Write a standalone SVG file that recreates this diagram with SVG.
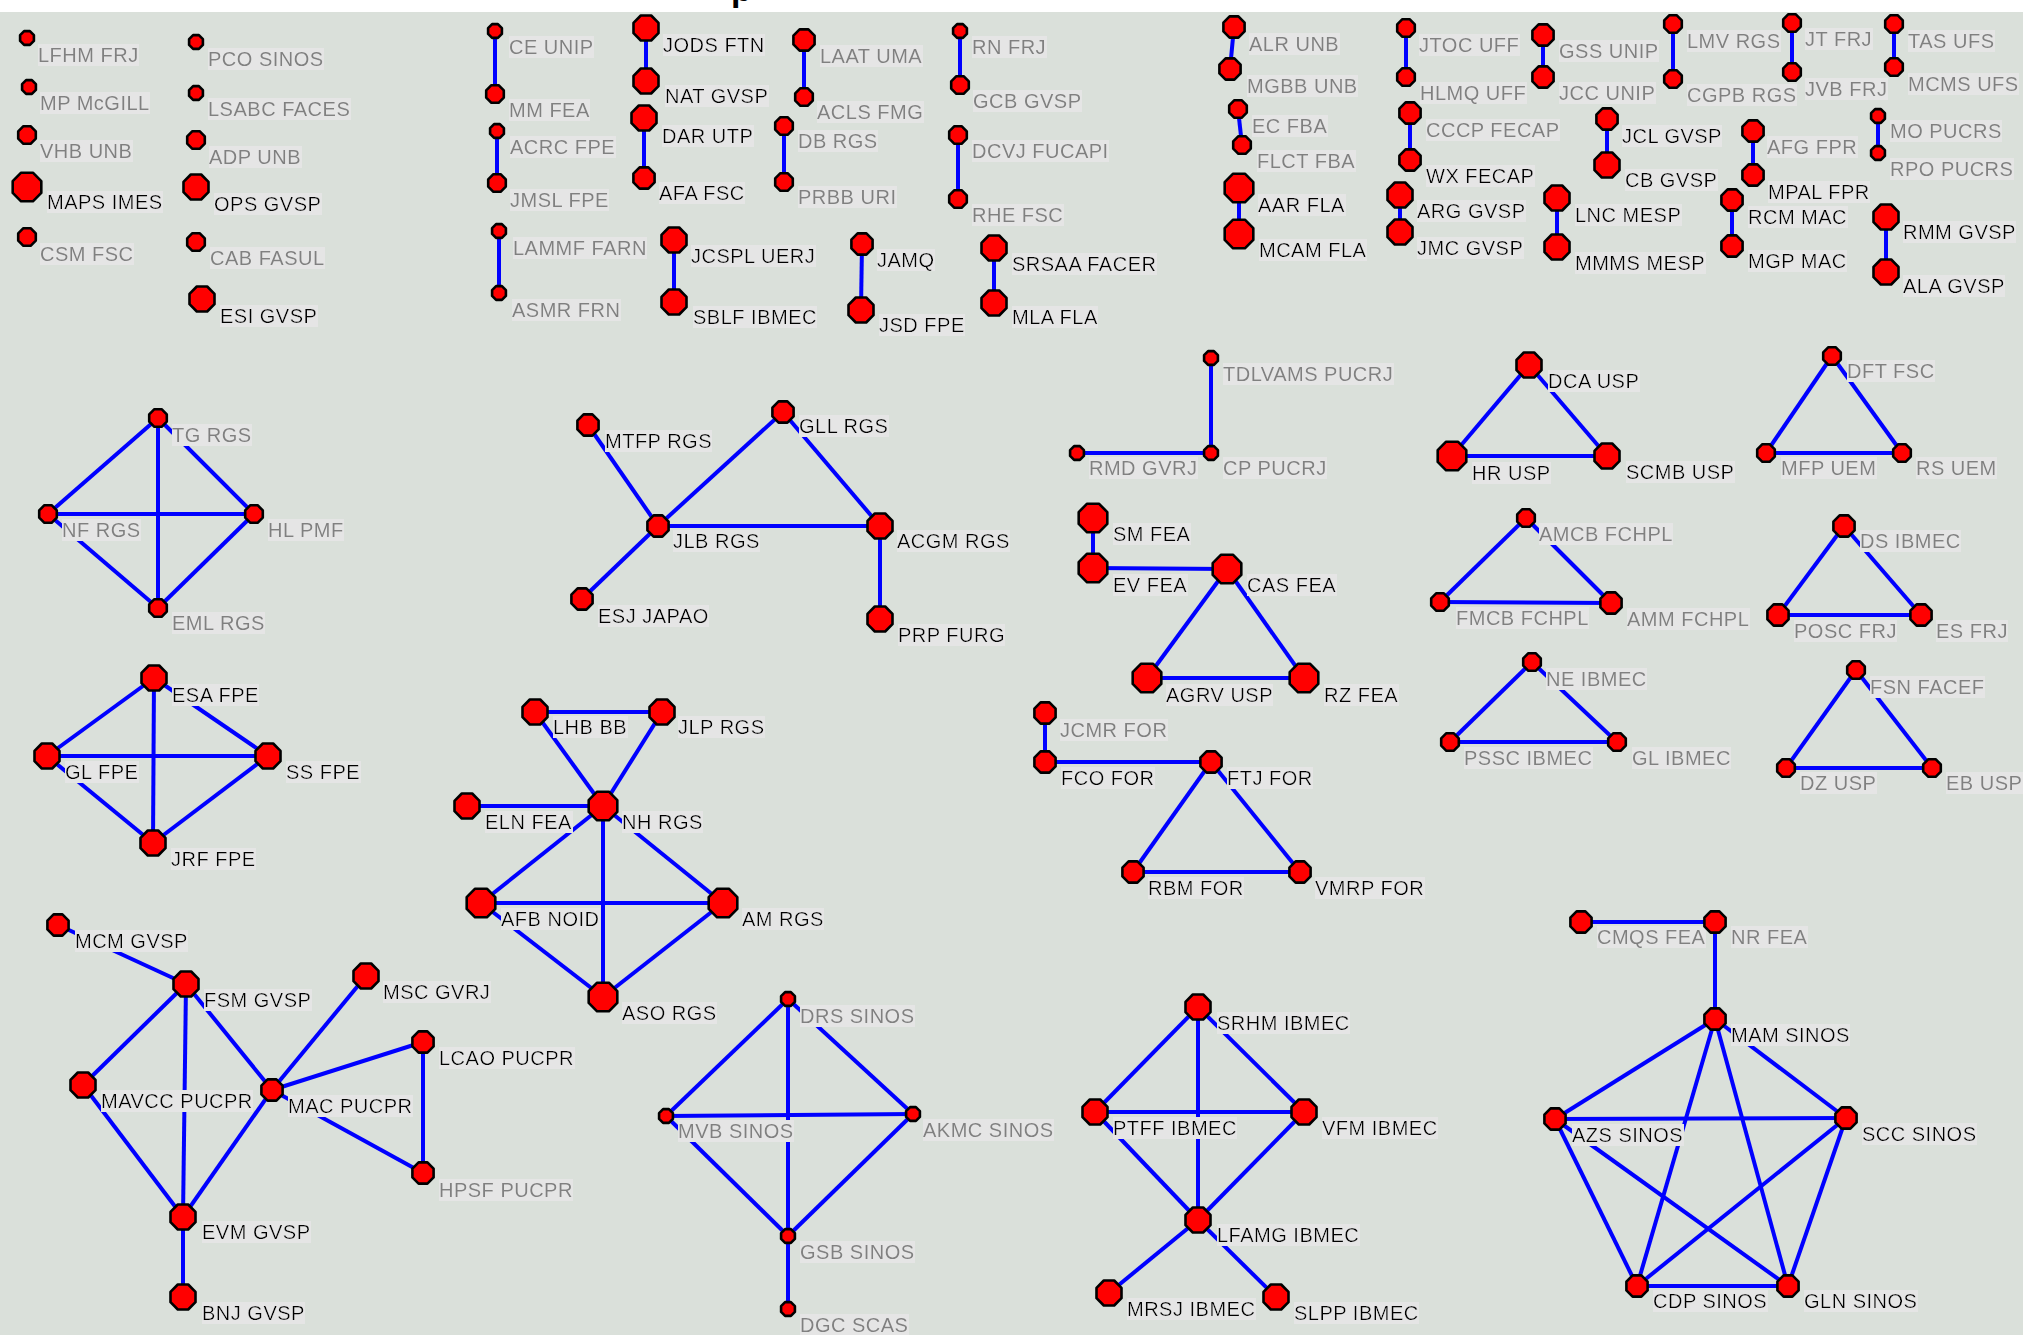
<svg xmlns="http://www.w3.org/2000/svg" xmlns:xlink="http://www.w3.org/1999/xlink" width="2023" height="1335" viewBox="0 0 2023 1335">
<style>
text{font-family:"Liberation Sans",Arial,sans-serif;font-size:20px;letter-spacing:0.5px;filter:url(#lb)}
.t{fill:#000}
.g{fill:#808080}
.o{fill:#ff0000;stroke:#000;stroke-width:2.6;stroke-linejoin:round}
#connectors line{stroke:#0000ff;stroke-width:4}
</style>
<defs>
<filter id="lb" x="0" y="0" width="1" height="1"><feFlood flood-color="#e5e5e5" result="bg"/><feMerge><feMergeNode in="bg"/><feMergeNode in="SourceGraphic"/></feMerge></filter>
<polygon id="A" class="o" points="2.9,-6.9 6.9,-2.9 6.9,2.9 2.9,6.9 -2.9,6.9 -6.9,2.9 -6.9,-2.9 -2.9,-6.9"/>
<polygon id="B" class="o" points="3.6,-8.8 8.8,-3.6 8.8,3.6 3.6,8.8 -3.6,8.8 -8.8,3.6 -8.8,-3.6 -3.6,-8.8"/>
<polygon id="C" class="o" points="4.4,-10.6 10.6,-4.4 10.6,4.4 4.4,10.6 -4.4,10.6 -10.6,4.4 -10.6,-4.4 -4.4,-10.6"/>
<polygon id="D" class="o" points="5.2,-12.5 12.5,-5.2 12.5,5.2 5.2,12.5 -5.2,12.5 -12.5,5.2 -12.5,-5.2 -5.2,-12.5"/>
<polygon id="E" class="o" points="5.9,-14.3 14.3,-5.9 14.3,5.9 5.9,14.3 -5.9,14.3 -14.3,5.9 -14.3,-5.9 -5.9,-14.3"/>
</defs>
<rect x="0" y="0" width="2023" height="1335" fill="#dae0da"/>
<rect x="0" y="0" width="2023" height="12" fill="#ffffff"/>
<text x="731" y="1" style="font-size:34px;font-weight:bold;filter:none" fill="#000">p</text>
<g id="connectors">
<line x1="495" y1="31" x2="495" y2="94"/>
<line x1="497" y1="131" x2="497" y2="183"/>
<line x1="499" y1="231" x2="499" y2="293"/>
<line x1="646" y1="28" x2="646" y2="81"/>
<line x1="644" y1="118" x2="644" y2="178"/>
<line x1="674" y1="240" x2="674" y2="302"/>
<line x1="804" y1="40" x2="804" y2="97"/>
<line x1="784" y1="126" x2="784" y2="182"/>
<line x1="862" y1="244" x2="861" y2="310"/>
<line x1="960" y1="31" x2="960" y2="85"/>
<line x1="958" y1="135" x2="958" y2="199"/>
<line x1="994" y1="248" x2="994" y2="303"/>
<line x1="1234" y1="27" x2="1230" y2="69"/>
<line x1="1238" y1="109" x2="1242" y2="145"/>
<line x1="1239" y1="188" x2="1239" y2="234"/>
<line x1="1406" y1="28" x2="1406" y2="77"/>
<line x1="1410" y1="113" x2="1410" y2="160"/>
<line x1="1400" y1="195" x2="1400" y2="232"/>
<line x1="1543" y1="35" x2="1543" y2="77"/>
<line x1="1673" y1="24" x2="1673" y2="79"/>
<line x1="1792" y1="23" x2="1792" y2="72"/>
<line x1="1894" y1="24" x2="1894" y2="67"/>
<line x1="1607" y1="119" x2="1607" y2="165"/>
<line x1="1753" y1="131" x2="1753" y2="175"/>
<line x1="1878" y1="116" x2="1878" y2="153"/>
<line x1="1557" y1="198" x2="1557" y2="247"/>
<line x1="1732" y1="200" x2="1732" y2="246"/>
<line x1="1886" y1="217" x2="1886" y2="272"/>
<line x1="158" y1="418" x2="48" y2="514"/>
<line x1="158" y1="418" x2="254" y2="514"/>
<line x1="158" y1="418" x2="158" y2="608"/>
<line x1="48" y1="514" x2="254" y2="514"/>
<line x1="48" y1="514" x2="158" y2="608"/>
<line x1="254" y1="514" x2="158" y2="608"/>
<line x1="154" y1="678" x2="47" y2="756"/>
<line x1="154" y1="678" x2="268" y2="756"/>
<line x1="154" y1="678" x2="153" y2="843"/>
<line x1="47" y1="756" x2="268" y2="756"/>
<line x1="47" y1="756" x2="153" y2="843"/>
<line x1="268" y1="756" x2="153" y2="843"/>
<line x1="588" y1="425" x2="658" y2="526"/>
<line x1="658" y1="526" x2="783" y2="412"/>
<line x1="783" y1="412" x2="880" y2="526"/>
<line x1="658" y1="526" x2="880" y2="526"/>
<line x1="658" y1="526" x2="582" y2="599"/>
<line x1="880" y1="526" x2="880" y2="619"/>
<line x1="535" y1="712" x2="662" y2="712"/>
<line x1="535" y1="712" x2="603" y2="806"/>
<line x1="662" y1="712" x2="603" y2="806"/>
<line x1="467" y1="806" x2="603" y2="806"/>
<line x1="603" y1="806" x2="481" y2="903"/>
<line x1="603" y1="806" x2="723" y2="903"/>
<line x1="603" y1="806" x2="603" y2="997"/>
<line x1="481" y1="903" x2="723" y2="903"/>
<line x1="481" y1="903" x2="603" y2="997"/>
<line x1="723" y1="903" x2="603" y2="997"/>
<line x1="58" y1="925" x2="186" y2="984"/>
<line x1="186" y1="984" x2="83" y2="1085"/>
<line x1="186" y1="984" x2="183" y2="1217"/>
<line x1="186" y1="984" x2="272" y2="1090"/>
<line x1="83" y1="1085" x2="183" y2="1217"/>
<line x1="183" y1="1217" x2="272" y2="1090"/>
<line x1="272" y1="1090" x2="366" y2="976"/>
<line x1="272" y1="1090" x2="423" y2="1042"/>
<line x1="272" y1="1090" x2="423" y2="1173"/>
<line x1="423" y1="1042" x2="423" y2="1173"/>
<line x1="183" y1="1217" x2="183" y2="1297"/>
<line x1="788" y1="999" x2="666" y2="1116"/>
<line x1="788" y1="999" x2="913" y2="1114"/>
<line x1="788" y1="999" x2="788" y2="1236"/>
<line x1="666" y1="1116" x2="913" y2="1114"/>
<line x1="666" y1="1116" x2="788" y2="1236"/>
<line x1="913" y1="1114" x2="788" y2="1236"/>
<line x1="788" y1="1236" x2="788" y2="1309"/>
<line x1="1211" y1="358" x2="1211" y2="453"/>
<line x1="1077" y1="453" x2="1211" y2="453"/>
<line x1="1093" y1="518" x2="1093" y2="568"/>
<line x1="1093" y1="568" x2="1227" y2="569"/>
<line x1="1227" y1="569" x2="1147" y2="678"/>
<line x1="1227" y1="569" x2="1304" y2="678"/>
<line x1="1147" y1="678" x2="1304" y2="678"/>
<line x1="1045" y1="713" x2="1045" y2="762"/>
<line x1="1045" y1="762" x2="1211" y2="762"/>
<line x1="1211" y1="762" x2="1133" y2="872"/>
<line x1="1211" y1="762" x2="1300" y2="872"/>
<line x1="1133" y1="872" x2="1300" y2="872"/>
<line x1="1198" y1="1007" x2="1095" y2="1112"/>
<line x1="1198" y1="1007" x2="1304" y2="1112"/>
<line x1="1198" y1="1007" x2="1198" y2="1220"/>
<line x1="1095" y1="1112" x2="1304" y2="1112"/>
<line x1="1095" y1="1112" x2="1198" y2="1220"/>
<line x1="1304" y1="1112" x2="1198" y2="1220"/>
<line x1="1198" y1="1220" x2="1109" y2="1293"/>
<line x1="1198" y1="1220" x2="1276" y2="1297"/>
<line x1="1529" y1="365" x2="1452" y2="456"/>
<line x1="1529" y1="365" x2="1607" y2="456"/>
<line x1="1452" y1="456" x2="1607" y2="456"/>
<line x1="1832" y1="356" x2="1766" y2="453"/>
<line x1="1832" y1="356" x2="1902" y2="453"/>
<line x1="1766" y1="453" x2="1902" y2="453"/>
<line x1="1526" y1="518" x2="1440" y2="602"/>
<line x1="1526" y1="518" x2="1611" y2="603"/>
<line x1="1440" y1="602" x2="1611" y2="603"/>
<line x1="1844" y1="526" x2="1778" y2="615"/>
<line x1="1844" y1="526" x2="1921" y2="615"/>
<line x1="1778" y1="615" x2="1921" y2="615"/>
<line x1="1532" y1="662" x2="1450" y2="742"/>
<line x1="1532" y1="662" x2="1617" y2="742"/>
<line x1="1450" y1="742" x2="1617" y2="742"/>
<line x1="1856" y1="670" x2="1786" y2="768"/>
<line x1="1856" y1="670" x2="1932" y2="768"/>
<line x1="1786" y1="768" x2="1932" y2="768"/>
<line x1="1581" y1="922" x2="1715" y2="922"/>
<line x1="1715" y1="922" x2="1715" y2="1019"/>
<line x1="1715" y1="1019" x2="1555" y2="1119"/>
<line x1="1715" y1="1019" x2="1846" y2="1118"/>
<line x1="1715" y1="1019" x2="1637" y2="1286"/>
<line x1="1715" y1="1019" x2="1788" y2="1286"/>
<line x1="1555" y1="1119" x2="1846" y2="1118"/>
<line x1="1555" y1="1119" x2="1637" y2="1286"/>
<line x1="1555" y1="1119" x2="1788" y2="1286"/>
<line x1="1846" y1="1118" x2="1637" y2="1286"/>
<line x1="1846" y1="1118" x2="1788" y2="1286"/>
<line x1="1637" y1="1286" x2="1788" y2="1286"/>
</g>
<g id="nodes">
<g id="n-LFHM_FRJ"><text class="g" x="38" y="62">LFHM FRJ</text><use href="#A" x="27" y="38"/></g>
<g id="n-MP_McGILL"><text class="g" x="40" y="110">MP McGILL</text><use href="#A" x="29" y="87"/></g>
<g id="n-VHB_UNB"><text class="g" x="40" y="158">VHB UNB</text><use href="#B" x="27" y="135"/></g>
<g id="n-MAPS_IMES"><text class="t" x="47" y="209">MAPS IMES</text><use href="#E" x="27" y="187"/></g>
<g id="n-CSM_FSC"><text class="g" x="40" y="261">CSM FSC</text><use href="#B" x="27" y="237"/></g>
<g id="n-PCO_SINOS"><text class="g" x="208" y="66">PCO SINOS</text><use href="#A" x="196" y="42"/></g>
<g id="n-LSABC_FACES"><text class="g" x="208" y="116">LSABC FACES</text><use href="#A" x="196" y="93"/></g>
<g id="n-ADP_UNB"><text class="g" x="209" y="164">ADP UNB</text><use href="#B" x="196" y="140"/></g>
<g id="n-OPS_GVSP"><text class="t" x="214" y="211">OPS GVSP</text><use href="#D" x="196" y="187"/></g>
<g id="n-CAB_FASUL"><text class="g" x="210" y="265">CAB FASUL</text><use href="#B" x="196" y="242"/></g>
<g id="n-ESI_GVSP"><text class="t" x="220" y="323">ESI GVSP</text><use href="#D" x="202" y="299"/></g>
<g id="n-CE_UNIP"><text class="g" x="509" y="54">CE UNIP</text><use href="#A" x="495" y="31"/></g>
<g id="n-MM_FEA"><text class="g" x="509" y="117">MM FEA</text><use href="#B" x="495" y="94"/></g>
<g id="n-ACRC_FPE"><text class="g" x="510" y="154">ACRC FPE</text><use href="#A" x="497" y="131"/></g>
<g id="n-JMSL_FPE"><text class="g" x="510" y="207">JMSL FPE</text><use href="#B" x="497" y="183"/></g>
<g id="n-LAMMF_FARN"><text class="g" x="513" y="255">LAMMF FARN</text><use href="#A" x="499" y="231"/></g>
<g id="n-ASMR_FRN"><text class="g" x="512" y="317">ASMR FRN</text><use href="#A" x="499" y="293"/></g>
<g id="n-JODS_FTN"><text class="t" x="663" y="52">JODS FTN</text><use href="#D" x="646" y="28"/></g>
<g id="n-NAT_GVSP"><text class="t" x="665" y="103">NAT GVSP</text><use href="#D" x="646" y="81"/></g>
<g id="n-DAR_UTP"><text class="t" x="662" y="143">DAR UTP</text><use href="#D" x="644" y="118"/></g>
<g id="n-AFA_FSC"><text class="t" x="659" y="200">AFA FSC</text><use href="#C" x="644" y="178"/></g>
<g id="n-JCSPL_UERJ"><text class="t" x="691" y="263">JCSPL UERJ</text><use href="#D" x="674" y="240"/></g>
<g id="n-SBLF_IBMEC"><text class="t" x="693" y="324">SBLF IBMEC</text><use href="#D" x="674" y="302"/></g>
<g id="n-LAAT_UMA"><text class="g" x="820" y="63">LAAT UMA</text><use href="#C" x="804" y="40"/></g>
<g id="n-ACLS_FMG"><text class="g" x="817" y="119">ACLS FMG</text><use href="#B" x="804" y="97"/></g>
<g id="n-DB_RGS"><text class="g" x="798" y="148">DB RGS</text><use href="#B" x="784" y="126"/></g>
<g id="n-PRBB_URI"><text class="g" x="798" y="204">PRBB URI</text><use href="#B" x="784" y="182"/></g>
<g id="n-JAMQ"><text class="t" x="877" y="267">JAMQ</text><use href="#C" x="862" y="244"/></g>
<g id="n-JSD_FPE"><text class="t" x="879" y="332">JSD FPE</text><use href="#D" x="861" y="310"/></g>
<g id="n-RN_FRJ"><text class="g" x="972" y="54">RN FRJ</text><use href="#A" x="960" y="31"/></g>
<g id="n-GCB_GVSP"><text class="g" x="973" y="108">GCB GVSP</text><use href="#B" x="960" y="85"/></g>
<g id="n-DCVJ_FUCAPI"><text class="g" x="972" y="158">DCVJ FUCAPI</text><use href="#B" x="958" y="135"/></g>
<g id="n-RHE_FSC"><text class="g" x="972" y="222">RHE FSC</text><use href="#B" x="958" y="199"/></g>
<g id="n-SRSAA_FACER"><text class="t" x="1012" y="271">SRSAA FACER</text><use href="#D" x="994" y="248"/></g>
<g id="n-MLA_FLA"><text class="t" x="1012" y="324">MLA FLA</text><use href="#D" x="994" y="303"/></g>
<g id="n-ALR_UNB"><text class="g" x="1249" y="51">ALR UNB</text><use href="#C" x="1234" y="27"/></g>
<g id="n-MGBB_UNB"><text class="g" x="1247" y="93">MGBB UNB</text><use href="#C" x="1230" y="69"/></g>
<g id="n-EC_FBA"><text class="g" x="1252" y="133">EC FBA</text><use href="#B" x="1238" y="109"/></g>
<g id="n-FLCT_FBA"><text class="g" x="1257" y="168">FLCT FBA</text><use href="#B" x="1242" y="145"/></g>
<g id="n-AAR_FLA"><text class="t" x="1258" y="212">AAR FLA</text><use href="#E" x="1239" y="188"/></g>
<g id="n-MCAM_FLA"><text class="t" x="1259" y="257">MCAM FLA</text><use href="#E" x="1239" y="234"/></g>
<g id="n-JTOC_UFF"><text class="g" x="1419" y="52">JTOC UFF</text><use href="#B" x="1406" y="28"/></g>
<g id="n-HLMQ_UFF"><text class="g" x="1420" y="100">HLMQ UFF</text><use href="#B" x="1406" y="77"/></g>
<g id="n-CCCP_FECAP"><text class="g" x="1426" y="137">CCCP FECAP</text><use href="#C" x="1410" y="113"/></g>
<g id="n-WX_FECAP"><text class="t" x="1426" y="183">WX FECAP</text><use href="#C" x="1410" y="160"/></g>
<g id="n-ARG_GVSP"><text class="t" x="1417" y="218">ARG GVSP</text><use href="#D" x="1400" y="195"/></g>
<g id="n-JMC_GVSP"><text class="t" x="1417" y="255">JMC GVSP</text><use href="#D" x="1400" y="232"/></g>
<g id="n-GSS_UNIP"><text class="g" x="1559" y="58">GSS UNIP</text><use href="#C" x="1543" y="35"/></g>
<g id="n-JCC_UNIP"><text class="g" x="1559" y="100">JCC UNIP</text><use href="#C" x="1543" y="77"/></g>
<g id="n-LMV_RGS"><text class="g" x="1687" y="48">LMV RGS</text><use href="#B" x="1673" y="24"/></g>
<g id="n-CGPB_RGS"><text class="g" x="1687" y="102">CGPB RGS</text><use href="#B" x="1673" y="79"/></g>
<g id="n-JT_FRJ"><text class="g" x="1805" y="46">JT FRJ</text><use href="#B" x="1792" y="23"/></g>
<g id="n-JVB_FRJ"><text class="g" x="1805" y="96">JVB FRJ</text><use href="#B" x="1792" y="72"/></g>
<g id="n-TAS_UFS"><text class="g" x="1908" y="48">TAS UFS</text><use href="#B" x="1894" y="24"/></g>
<g id="n-MCMS_UFS"><text class="g" x="1908" y="91">MCMS UFS</text><use href="#B" x="1894" y="67"/></g>
<g id="n-JCL_GVSP"><text class="t" x="1622" y="143">JCL GVSP</text><use href="#C" x="1607" y="119"/></g>
<g id="n-CB_GVSP"><text class="t" x="1625" y="187">CB GVSP</text><use href="#D" x="1607" y="165"/></g>
<g id="n-AFG_FPR"><text class="g" x="1767" y="154">AFG FPR</text><use href="#C" x="1753" y="131"/></g>
<g id="n-MPAL_FPR"><text class="t" x="1768" y="199">MPAL FPR</text><use href="#C" x="1753" y="175"/></g>
<g id="n-MO_PUCRS"><text class="g" x="1890" y="138">MO PUCRS</text><use href="#A" x="1878" y="116"/></g>
<g id="n-RPO_PUCRS"><text class="g" x="1890" y="176">RPO PUCRS</text><use href="#A" x="1878" y="153"/></g>
<g id="n-LNC_MESP"><text class="t" x="1575" y="222">LNC MESP</text><use href="#D" x="1557" y="198"/></g>
<g id="n-MMMS_MESP"><text class="t" x="1575" y="270">MMMS MESP</text><use href="#D" x="1557" y="247"/></g>
<g id="n-RCM_MAC"><text class="t" x="1748" y="224">RCM MAC</text><use href="#C" x="1732" y="200"/></g>
<g id="n-MGP_MAC"><text class="t" x="1748" y="268">MGP MAC</text><use href="#C" x="1732" y="246"/></g>
<g id="n-RMM_GVSP"><text class="t" x="1903" y="239">RMM GVSP</text><use href="#D" x="1886" y="217"/></g>
<g id="n-ALA_GVSP"><text class="t" x="1903" y="293">ALA GVSP</text><use href="#D" x="1886" y="272"/></g>
<g id="n-TG_RGS"><text class="g" x="172" y="442">TG RGS</text><use href="#B" x="158" y="418"/></g>
<g id="n-NF_RGS"><text class="g" x="62" y="537">NF RGS</text><use href="#B" x="48" y="514"/></g>
<g id="n-HL_PMF"><text class="g" x="268" y="537">HL PMF</text><use href="#B" x="254" y="514"/></g>
<g id="n-EML_RGS"><text class="g" x="172" y="630">EML RGS</text><use href="#B" x="158" y="608"/></g>
<g id="n-ESA_FPE"><text class="t" x="172" y="702">ESA FPE</text><use href="#D" x="154" y="678"/></g>
<g id="n-GL_FPE"><text class="t" x="65" y="779">GL FPE</text><use href="#D" x="47" y="756"/></g>
<g id="n-SS_FPE"><text class="t" x="286" y="779">SS FPE</text><use href="#D" x="268" y="756"/></g>
<g id="n-JRF_FPE"><text class="t" x="171" y="866">JRF FPE</text><use href="#D" x="153" y="843"/></g>
<g id="n-MTFP_RGS"><text class="t" x="605" y="448">MTFP RGS</text><use href="#C" x="588" y="425"/></g>
<g id="n-GLL_RGS"><text class="t" x="799" y="433">GLL RGS</text><use href="#C" x="783" y="412"/></g>
<g id="n-JLB_RGS"><text class="t" x="673" y="548">JLB RGS</text><use href="#C" x="658" y="526"/></g>
<g id="n-ACGM_RGS"><text class="t" x="897" y="548">ACGM RGS</text><use href="#D" x="880" y="526"/></g>
<g id="n-ESJ_JAPAO"><text class="t" x="598" y="623">ESJ JAPAO</text><use href="#C" x="582" y="599"/></g>
<g id="n-PRP_FURG"><text class="t" x="898" y="642">PRP FURG</text><use href="#D" x="880" y="619"/></g>
<g id="n-LHB_BB"><text class="t" x="553" y="734">LHB BB</text><use href="#D" x="535" y="712"/></g>
<g id="n-JLP_RGS"><text class="t" x="678" y="734">JLP RGS</text><use href="#D" x="662" y="712"/></g>
<g id="n-ELN_FEA"><text class="t" x="485" y="829">ELN FEA</text><use href="#D" x="467" y="806"/></g>
<g id="n-NH_RGS"><text class="t" x="622" y="829">NH RGS</text><use href="#E" x="603" y="806"/></g>
<g id="n-AFB_NOID"><text class="t" x="501" y="926">AFB NOID</text><use href="#E" x="481" y="903"/></g>
<g id="n-AM_RGS"><text class="t" x="742" y="926">AM RGS</text><use href="#E" x="723" y="903"/></g>
<g id="n-ASO_RGS"><text class="t" x="622" y="1020">ASO RGS</text><use href="#E" x="603" y="997"/></g>
<g id="n-MCM_GVSP"><text class="t" x="75" y="948">MCM GVSP</text><use href="#C" x="58" y="925"/></g>
<g id="n-FSM_GVSP"><text class="t" x="204" y="1007">FSM GVSP</text><use href="#D" x="186" y="984"/></g>
<g id="n-MSC_GVRJ"><text class="t" x="383" y="999">MSC GVRJ</text><use href="#D" x="366" y="976"/></g>
<g id="n-LCAO_PUCPR"><text class="t" x="439" y="1065">LCAO PUCPR</text><use href="#C" x="423" y="1042"/></g>
<g id="n-MAVCC_PUCPR"><text class="t" x="101" y="1108">MAVCC PUCPR</text><use href="#D" x="83" y="1085"/></g>
<g id="n-MAC_PUCPR"><text class="t" x="288" y="1113">MAC PUCPR</text><use href="#C" x="272" y="1090"/></g>
<g id="n-HPSF_PUCPR"><text class="g" x="439" y="1197">HPSF PUCPR</text><use href="#C" x="423" y="1173"/></g>
<g id="n-EVM_GVSP"><text class="t" x="202" y="1239">EVM GVSP</text><use href="#D" x="183" y="1217"/></g>
<g id="n-BNJ_GVSP"><text class="t" x="202" y="1320">BNJ GVSP</text><use href="#D" x="183" y="1297"/></g>
<g id="n-DRS_SINOS"><text class="g" x="800" y="1023">DRS SINOS</text><use href="#A" x="788" y="999"/></g>
<g id="n-MVB_SINOS"><text class="g" x="678" y="1138">MVB SINOS</text><use href="#A" x="666" y="1116"/></g>
<g id="n-AKMC_SINOS"><text class="g" x="923" y="1137">AKMC SINOS</text><use href="#A" x="913" y="1114"/></g>
<g id="n-GSB_SINOS"><text class="g" x="800" y="1259">GSB SINOS</text><use href="#A" x="788" y="1236"/></g>
<g id="n-DGC_SCAS"><text class="g" x="800" y="1332">DGC SCAS</text><use href="#A" x="788" y="1309"/></g>
<g id="n-TDLVAMS_PUCRJ"><text class="g" x="1223" y="381">TDLVAMS PUCRJ</text><use href="#A" x="1211" y="358"/></g>
<g id="n-RMD_GVRJ"><text class="g" x="1089" y="475">RMD GVRJ</text><use href="#A" x="1077" y="453"/></g>
<g id="n-CP_PUCRJ"><text class="g" x="1223" y="475">CP PUCRJ</text><use href="#A" x="1211" y="453"/></g>
<g id="n-SM_FEA"><text class="t" x="1113" y="541">SM FEA</text><use href="#E" x="1093" y="518"/></g>
<g id="n-EV_FEA"><text class="t" x="1113" y="592">EV FEA</text><use href="#E" x="1093" y="568"/></g>
<g id="n-CAS_FEA"><text class="t" x="1247" y="592">CAS FEA</text><use href="#E" x="1227" y="569"/></g>
<g id="n-AGRV_USP"><text class="t" x="1166" y="702">AGRV USP</text><use href="#E" x="1147" y="678"/></g>
<g id="n-RZ_FEA"><text class="t" x="1324" y="702">RZ FEA</text><use href="#E" x="1304" y="678"/></g>
<g id="n-JCMR_FOR"><text class="g" x="1060" y="737">JCMR FOR</text><use href="#C" x="1045" y="713"/></g>
<g id="n-FCO_FOR"><text class="t" x="1061" y="785">FCO FOR</text><use href="#C" x="1045" y="762"/></g>
<g id="n-FTJ_FOR"><text class="t" x="1227" y="785">FTJ FOR</text><use href="#C" x="1211" y="762"/></g>
<g id="n-RBM_FOR"><text class="t" x="1148" y="895">RBM FOR</text><use href="#C" x="1133" y="872"/></g>
<g id="n-VMRP_FOR"><text class="t" x="1315" y="895">VMRP FOR</text><use href="#C" x="1300" y="872"/></g>
<g id="n-SRHM_IBMEC"><text class="t" x="1217" y="1030">SRHM IBMEC</text><use href="#D" x="1198" y="1007"/></g>
<g id="n-PTFF_IBMEC"><text class="t" x="1113" y="1135">PTFF IBMEC</text><use href="#D" x="1095" y="1112"/></g>
<g id="n-VFM_IBMEC"><text class="t" x="1322" y="1135">VFM IBMEC</text><use href="#D" x="1304" y="1112"/></g>
<g id="n-LFAMG_IBMEC"><text class="t" x="1217" y="1242">LFAMG IBMEC</text><use href="#D" x="1198" y="1220"/></g>
<g id="n-MRSJ_IBMEC"><text class="t" x="1127" y="1316">MRSJ IBMEC</text><use href="#D" x="1109" y="1293"/></g>
<g id="n-SLPP_IBMEC"><text class="t" x="1294" y="1320">SLPP IBMEC</text><use href="#D" x="1276" y="1297"/></g>
<g id="n-DCA_USP"><text class="t" x="1548" y="388">DCA USP</text><use href="#D" x="1529" y="365"/></g>
<g id="n-HR_USP"><text class="t" x="1472" y="480">HR USP</text><use href="#E" x="1452" y="456"/></g>
<g id="n-SCMB_USP"><text class="t" x="1626" y="479">SCMB USP</text><use href="#D" x="1607" y="456"/></g>
<g id="n-DFT_FSC"><text class="g" x="1847" y="378">DFT FSC</text><use href="#B" x="1832" y="356"/></g>
<g id="n-MFP_UEM"><text class="g" x="1781" y="475">MFP UEM</text><use href="#B" x="1766" y="453"/></g>
<g id="n-RS_UEM"><text class="g" x="1916" y="475">RS UEM</text><use href="#B" x="1902" y="453"/></g>
<g id="n-AMCB_FCHPL"><text class="g" x="1539" y="541">AMCB FCHPL</text><use href="#B" x="1526" y="518"/></g>
<g id="n-FMCB_FCHPL"><text class="g" x="1456" y="625">FMCB FCHPL</text><use href="#B" x="1440" y="602"/></g>
<g id="n-AMM_FCHPL"><text class="g" x="1627" y="626">AMM FCHPL</text><use href="#C" x="1611" y="603"/></g>
<g id="n-DS_IBMEC"><text class="g" x="1860" y="548">DS IBMEC</text><use href="#C" x="1844" y="526"/></g>
<g id="n-POSC_FRJ"><text class="g" x="1794" y="638">POSC FRJ</text><use href="#C" x="1778" y="615"/></g>
<g id="n-ES_FRJ"><text class="g" x="1936" y="638">ES FRJ</text><use href="#C" x="1921" y="615"/></g>
<g id="n-NE_IBMEC"><text class="g" x="1546" y="686">NE IBMEC</text><use href="#B" x="1532" y="662"/></g>
<g id="n-PSSC_IBMEC"><text class="g" x="1464" y="765">PSSC IBMEC</text><use href="#B" x="1450" y="742"/></g>
<g id="n-GL_IBMEC"><text class="g" x="1632" y="765">GL IBMEC</text><use href="#B" x="1617" y="742"/></g>
<g id="n-FSN_FACEF"><text class="g" x="1870" y="694">FSN FACEF</text><use href="#B" x="1856" y="670"/></g>
<g id="n-DZ_USP"><text class="g" x="1800" y="790">DZ USP</text><use href="#B" x="1786" y="768"/></g>
<g id="n-EB_USP"><text class="g" x="1946" y="790">EB USP</text><use href="#B" x="1932" y="768"/></g>
<g id="n-CMQS_FEA"><text class="g" x="1597" y="944">CMQS FEA</text><use href="#C" x="1581" y="922"/></g>
<g id="n-NR_FEA"><text class="g" x="1731" y="944">NR FEA</text><use href="#C" x="1715" y="922"/></g>
<g id="n-MAM_SINOS"><text class="t" x="1731" y="1042">MAM SINOS</text><use href="#C" x="1715" y="1019"/></g>
<g id="n-AZS_SINOS"><text class="t" x="1572" y="1142">AZS SINOS</text><use href="#C" x="1555" y="1119"/></g>
<g id="n-SCC_SINOS"><text class="t" x="1862" y="1141">SCC SINOS</text><use href="#C" x="1846" y="1118"/></g>
<g id="n-CDP_SINOS"><text class="t" x="1653" y="1308">CDP SINOS</text><use href="#C" x="1637" y="1286"/></g>
<g id="n-GLN_SINOS"><text class="t" x="1804" y="1308">GLN SINOS</text><use href="#C" x="1788" y="1286"/></g>
</g>
</svg>
